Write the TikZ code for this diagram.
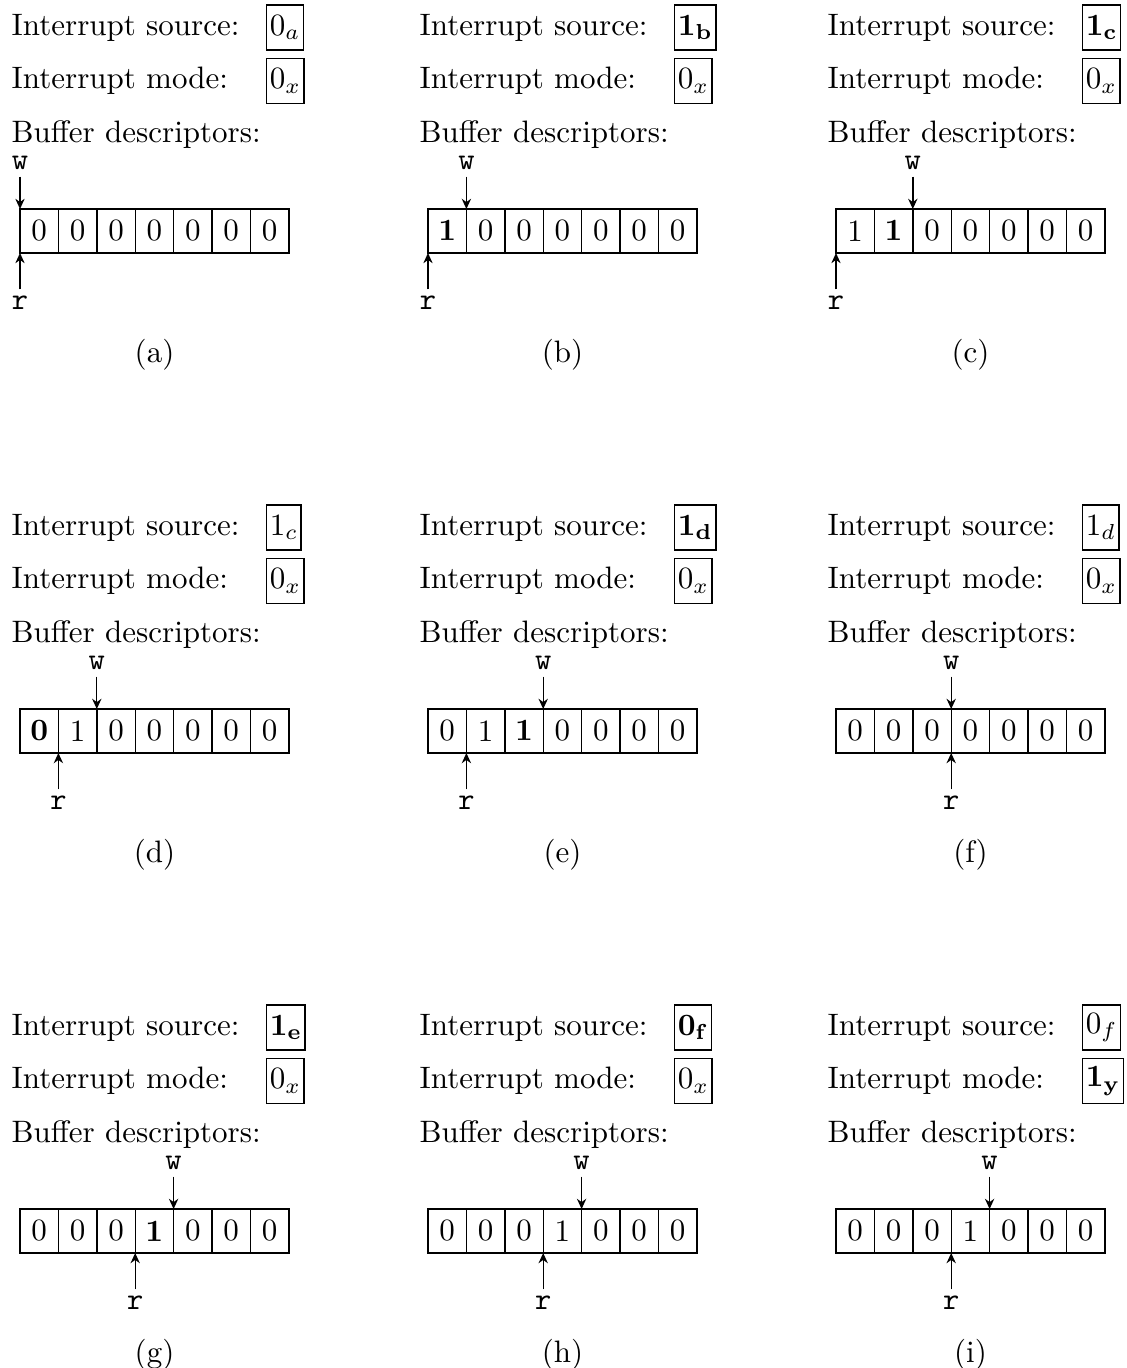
\documentclass[tikz,border=0pt]{standalone}
\usepackage{tikz}
\usetikzlibrary{arrows.meta}

\begin{document}
\begin{tikzpicture}[x=0.3226pt, y=-0.3226pt,
      >={Stealth[length=3.3pt, width=3pt]}, line width=0.45pt,
      lbl/.style={anchor=base west, inner sep=0pt},
      flag/.style={draw, anchor=west, inner sep=1pt, minimum height=14.5pt},
      cell/.style={draw, outer sep=0pt, inner sep=0pt,
                   minimum width=12.39pt, minimum height=14.19pt},
      ptr/.style={font=\ttfamily, inner sep=2pt}]
    \useasboundingbox (0,0) rectangle (1127,1368);
    % panel/column/row/source/mode/cells/write/read
    \foreach \pnl/\col/\row/\src/\mode/\cells/\w/\r in {
        a/0/0/{0_a}/{0_x}/{0,0,0,0,0,0,0}/0/0,
        b/1/0/{\mathbf{1_b}}/{0_x}/{$\mathbf{1}$,0,0,0,0,0,0}/1/0,
        c/2/0/{\mathbf{1_c}}/{0_x}/{1,$\mathbf{1}$,0,0,0,0,0}/2/0,
        d/0/1/{1_c}/{0_x}/{$\mathbf{0}$,1,0,0,0,0,0}/2/1,
        e/1/1/{\mathbf{1_d}}/{0_x}/{0,1,$\mathbf{1}$,0,0,0,0}/3/1,
        f/2/1/{1_d}/{0_x}/{0,0,0,0,0,0,0}/3/3,
        g/0/2/{\mathbf{1_e}}/{0_x}/{0,0,0,$\mathbf{1}$,0,0,0}/4/3,
        h/1/2/{\mathbf{0_f}}/{0_x}/{0,0,0,1,0,0,0}/4/3,
        i/2/2/{0_f}/{\mathbf{1_y}}/{0,0,0,1,0,0,0}/4/3}
    {
      \begin{scope}[shift={({11+408*\col},{500*\row})}]
        \node[lbl] (\pnl-srclbl) at (0,35)  {Interrupt source:};
        \node[lbl] (\pnl-modelbl) at (0,88) {Interrupt mode:};
        \node[lbl] (\pnl-buflbl) at (0,142) {Buffer descriptors:};
        \node[flag] (\pnl-src) at (255,27.5) {$\src$};
        \node[flag] (\pnl-mode) at (255,81) {$\mode$};
        \foreach \v [count=\i from 0] in \cells
          \node[cell] (\pnl-c\i) at ({9+38.4*(\i+0.5)},231) {\v};
        \path (\pnl-c\w.north west) ++(0,-46) node[ptr] (\pnl-w) {w};
        \path (\pnl-c\r.south west) ++(0,50) node[ptr] (\pnl-r) {r};
        \draw[->] (\pnl-w) -- (\pnl-c\w.north west);
        \draw[->] (\pnl-r) -- (\pnl-c\r.south west);
        \node (\pnl-cap) at (143.5,355) {(\pnl)};
      \end{scope}
    }
  \end{tikzpicture}
\end{document}
